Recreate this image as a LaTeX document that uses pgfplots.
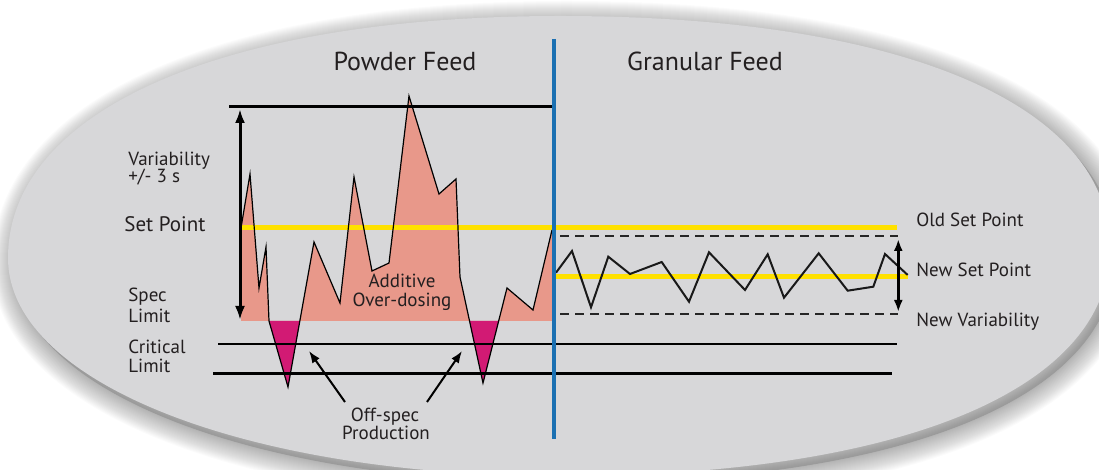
\documentclass[border=0pt]{standalone}
\usepackage{pgfplots}
\pgfplotsset{compat=1.18}
\usetikzlibrary{arrows.meta}
\usepackage{fontspec}
\setmainfont{PT Sans}
\definecolor{bgE}{HTML}{D7D7D9}
\definecolor{pinkF}{HTML}{E8988A}
\definecolor{magF}{HTML}{D21A74}
\definecolor{yel}{HTML}{FFE100}
\definecolor{blu}{HTML}{1B70B2}
\definecolor{txt}{HTML}{231F20}
\newcommand\ellpath{(4,106) .. controls (4,179.8) and (111.6,227) .. (280,227) .. controls (450.5,227) and (555,182.9) .. (555,111) .. controls (555,40.3) and (450.5,-3) .. (280,-3) .. controls (122.7,-3) and (4,43.85) .. (4,106) -- cycle}
\begin{document}
\begin{tikzpicture}[x=1pt,y=1pt]
% background oval with soft shadow (canvas: 1 px = 0.5 pt)
\begin{scope}
\clip (0,0) rectangle (549.5,235);
\begin{scope}[shift={(3,-3.5)}]
\fill[black, opacity=0.14] \ellpath;
\foreach \w in {1,...,22}{
  \draw[black, opacity=0.014, line width=\w pt, line join=round] \ellpath;
}
\end{scope}
\fill[bgE] \ellpath;
\end{scope}
\begin{axis}[name=ax, at={(0,0)}, anchor=south west,
  width=549.5pt, height=235pt, scale only axis,
  xmin=0, xmax=1099, ymin=0, ymax=470, y dir=reverse,
  hide axis, clip=false]
% pink over-dosing area
\addplot[fill=pinkF, draw=none] coordinates {
 (241,321) (241,228) (250,174) (259,288) (266,247) (269,321) (299.8,321)
 (314,242) (340,303) (354,177) (372,271) (389,263) (409,96) (439,194)
 (456,179) (460,277) (469.5,321) (498.7,321) (507,288) (533,310) (552,230) (552,321)} -- cycle;
% off-spec areas
\addplot[fill=magF, draw=none] coordinates {(269,321) (288,387) (299.8,321)} -- cycle;
\addplot[fill=magF, draw=none] coordinates {(469.5,321) (483,383) (498.7,321)} -- cycle;
% limit lines
\addplot[black, line width=1pt] coordinates {(218,344) (897,344)};
\addplot[black, line width=1.5pt] coordinates {(213,373.5) (892,373.5)};
\addplot[black, line width=1.5pt] coordinates {(229,107) (555,107)};
% set points
\addplot[yel, line width=2.2pt] coordinates {(241,227.5) (897,227.5)};
\addplot[yel, line width=2.5pt] coordinates {(554,276.5) (908,276.5)};
% powder feed curve
\addplot[black, line width=0.6pt] coordinates {
 (241,228) (250,174) (259,288) (266,247) (269,321) (288,387)
 (314,242) (340,303) (354,177) (372,271) (389,263) (409,96) (439,194)
 (456,179) (460,277) (483,383) (507,288) (533,310) (552,230)};
% new variability dashed lines
\addplot[black!85, line width=1pt, dash pattern=on 4.5pt off 3pt] coordinates {(560,236) (898,236)};
\addplot[black!85, line width=1pt, dash pattern=on 4.5pt off 3pt] coordinates {(560,314.5) (898,314.5)};
% granular feed curve
\addplot[black!90, line width=1pt] coordinates {
 (556,272.7) (572,251) (591,307.3) (608.3,256.7) (630,274) (661.7,262)
 (689,301.7) (709,252.3) (745,290) (767.7,254.3) (784,297.7) (818.7,253.3)
 (847.7,290.7) (873.3,286.7) (885,254) (907.7,275)};
% arrows
\addplot[black, line width=1.5pt, {Latex[length=7pt,width=5pt]}-{Latex[length=7pt,width=5pt]}] coordinates {(240,109) (240,320)};
\addplot[black, line width=1.2pt, {Latex[length=6pt,width=4.5pt]}-{Latex[length=6pt,width=4.5pt]}] coordinates {(898.3,239) (898.3,312)};
\addplot[black, line width=1pt, -{Latex[length=6pt,width=4.5pt]}] coordinates {(345,402) (309,351)};
\addplot[black, line width=1pt, -{Latex[length=6pt,width=4.5pt]}] coordinates {(427,402) (462,351)};
% blue divider
\addplot[blu, line width=1.6pt] coordinates {(554,39) (554,439)};
% texts
\begin{scope}[every node/.style={text=txt, inner sep=0pt, font=\fontsize{9.5}{11}\selectfont}]
\node[anchor=base, font=\fontsize{13}{15}\selectfont] at (axis cs:405,70.5) {Powder Feed};
\node[anchor=base, font=\fontsize{13}{15}\selectfont] at (axis cs:705,70.5) {Granular Feed};
\node[anchor=base west] at (axis cs:128,166) {Variability};
\node[anchor=base west] at (axis cs:128,183) {+/- 3 s};
\node[anchor=base west, font=\fontsize{10.5}{12}\selectfont] at (axis cs:124,231.5) {Set Point};
\node[anchor=base west] at (axis cs:128,302) {Spec};
\node[anchor=base west] at (axis cs:128,323) {Limit};
\node[anchor=base west] at (axis cs:128,354) {Critical};
\node[anchor=base west] at (axis cs:128,373) {Limit};
\node[anchor=base] at (axis cs:402,288) {Additive};
\node[anchor=base] at (axis cs:402,307) {Over-dosing};
\node[anchor=base] at (axis cs:385,421.5) {Off-spec};
\node[anchor=base] at (axis cs:386,440) {Production};
\node[anchor=base west] at (axis cs:916,226.5) {Old Set Point};
\node[anchor=base west] at (axis cs:916,276.5) {New Set Point};
\node[anchor=base west] at (axis cs:916,326.5) {New Variability};
\end{scope}
\end{axis}
\pgfresetboundingbox
\path (ax.south west) rectangle (ax.north east);
\end{tikzpicture}
\end{document}
